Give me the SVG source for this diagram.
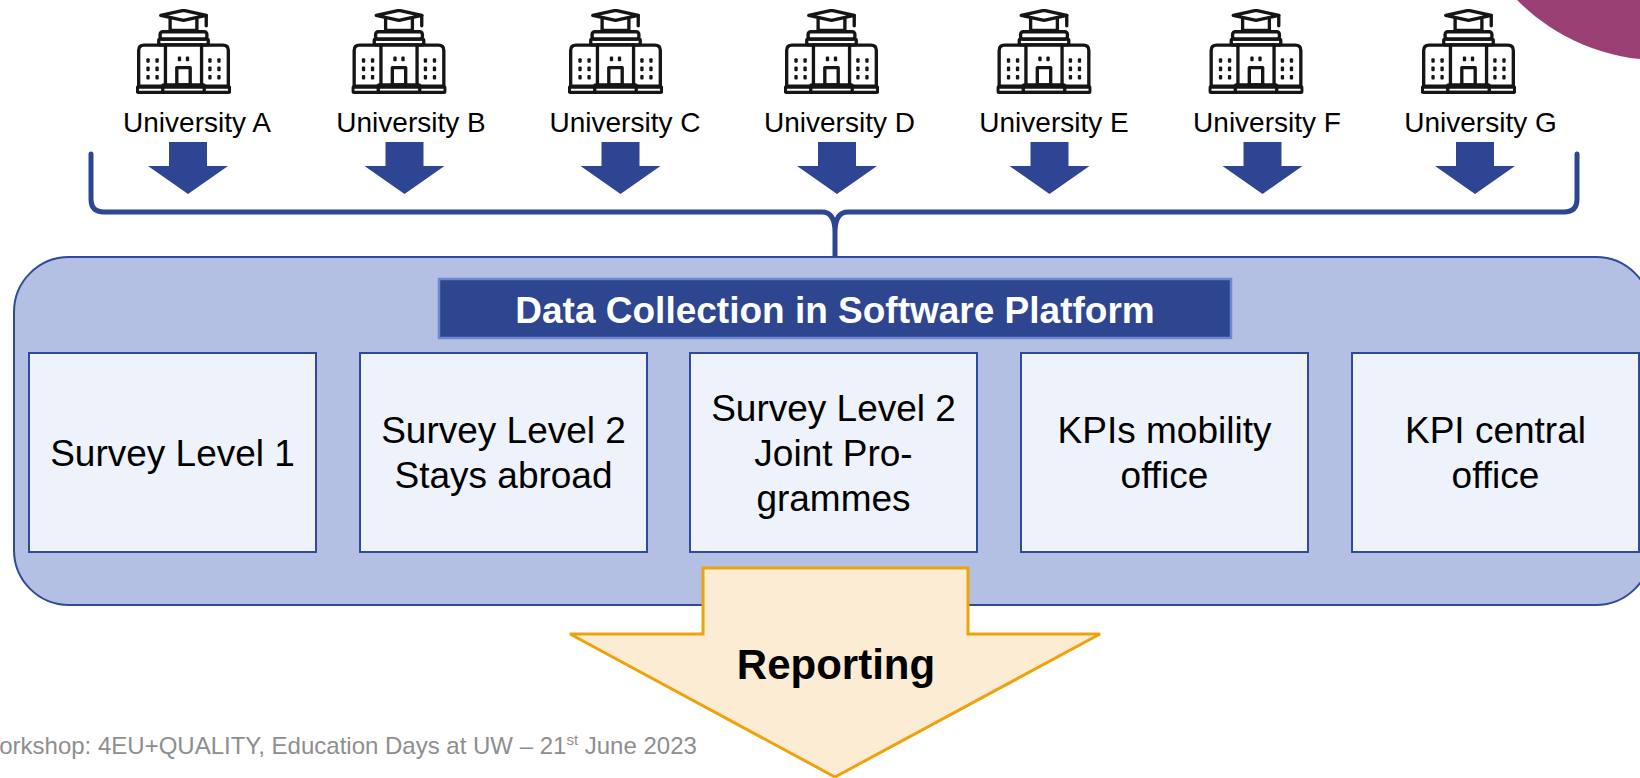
<svg xmlns="http://www.w3.org/2000/svg" xmlns:xlink="http://www.w3.org/1999/xlink" width="1640" height="778" viewBox="0 0 1640 778">
<style>
.uni{font-family:"Liberation Sans",Arial,sans-serif;font-size:28px;fill:#000;text-anchor:middle}
.box{fill:#eef2fa;stroke:#2f4a9c;stroke-width:2}
.bt{font-family:"Liberation Sans",Arial,sans-serif;font-size:37px;fill:#000;text-anchor:middle}
.ico{fill:none;stroke:#151515;stroke-width:10;stroke-linejoin:round;stroke-linecap:round}
.dot{fill:#151515}
.arr{fill:#2e4594}
</style>
<defs>
<symbol id="uni" viewBox="108 28 284 254">
<g class="ico">
<polygon points="250,32 318,47 250,62 182,47"/>
<line x1="318" y1="47" x2="318" y2="78"/>
<path d="M210,58 V92 H290 V58"/>
<rect x="180" y="96" width="140" height="22" rx="8"/>
<rect x="176" y="118" width="148" height="17" rx="4"/>
<rect x="196" y="135" width="108" height="124"/>
<path d="M196,259 H116 V152 Q116,136 132,136 H196"/>
<path d="M304,259 H384 V152 Q384,136 368,136 H304"/>
<rect x="112" y="261" width="276" height="16" rx="4"/>
<rect x="188" y="255" width="124" height="22" rx="3"/>
<rect x="230" y="203" width="40" height="52"/>
</g>
<g class="dot">
<rect x="139" y="175" width="10" height="14" rx="3"/>
<rect x="166" y="175" width="10" height="14" rx="3"/>
<rect x="139" y="200" width="10" height="14" rx="3"/>
<rect x="166" y="200" width="10" height="14" rx="3"/>
<rect x="139" y="225" width="10" height="14" rx="3"/>
<rect x="166" y="225" width="10" height="14" rx="3"/>
<rect x="324" y="175" width="10" height="14" rx="3"/>
<rect x="351" y="175" width="10" height="14" rx="3"/>
<rect x="324" y="200" width="10" height="14" rx="3"/>
<rect x="351" y="200" width="10" height="14" rx="3"/>
<rect x="324" y="225" width="10" height="14" rx="3"/>
<rect x="351" y="225" width="10" height="14" rx="3"/>
<rect x="233" y="170" width="10" height="14" rx="3"/>
<rect x="257" y="170" width="10" height="14" rx="3"/>
</g>
</symbol>
<path id="dn" d="M-19,142 H19 V166 H40 L0,194 L-40,166 H-19 Z"/>
</defs>

<circle cx="1660" cy="-140" r="200" fill="#993f73"/>

<g id="universities">
<g id="uni-a"><use xlink:href="#uni" href="#uni" x="136" y="9" width="95" height="85"/><text class="uni" x="197" y="132">University A</text></g>
<g id="uni-b"><use xlink:href="#uni" href="#uni" x="351.5" y="9" width="95" height="85"/><text class="uni" x="411" y="132">University B</text></g>
<g id="uni-c"><use xlink:href="#uni" href="#uni" x="568" y="9" width="95" height="85"/><text class="uni" x="625" y="132">University C</text></g>
<g id="uni-d"><use xlink:href="#uni" href="#uni" x="784" y="9" width="95" height="85"/><text class="uni" x="839.5" y="132">University D</text></g>
<g id="uni-e"><use xlink:href="#uni" href="#uni" x="996.5" y="9" width="95" height="85"/><text class="uni" x="1054" y="132">University E</text></g>
<g id="uni-f"><use xlink:href="#uni" href="#uni" x="1208.5" y="9" width="95" height="85"/><text class="uni" x="1267" y="132">University F</text></g>
<g id="uni-g"><use xlink:href="#uni" href="#uni" x="1421" y="9" width="95" height="85"/><text class="uni" x="1480.5" y="132">University G</text></g>
</g>

<g id="connectors">
<g class="arr">
<use xlink:href="#dn" href="#dn" x="188"/>
<use xlink:href="#dn" href="#dn" x="404.5"/>
<use xlink:href="#dn" href="#dn" x="620.5"/>
<use xlink:href="#dn" href="#dn" x="837"/>
<use xlink:href="#dn" href="#dn" x="1049.5"/>
<use xlink:href="#dn" href="#dn" x="1262.5"/>
<use xlink:href="#dn" href="#dn" x="1475"/>
</g>
<path d="M91,154 V199 Q91,212 104,212 H822 Q835,212 835,232 V268 M835,232 Q835,212 848,212 H1564 Q1577,212 1577,199 V154" fill="none" stroke="#2e4594" stroke-width="5" stroke-linecap="round" stroke-linejoin="round"/>
</g>

<g id="platform">
<rect x="14" y="257" width="1637" height="348" rx="55" fill="#b3c0e3" stroke="#2f4a9c" stroke-width="2"/>
<g id="title">
<rect x="439" y="279" width="792" height="59" fill="#2e4590" stroke="#6e87d1" stroke-width="2.5"/>
<text x="835" y="323" font-family="Liberation Sans, Arial, sans-serif" font-size="37" font-weight="bold" fill="#fff" text-anchor="middle">Data Collection in Software Platform</text>
</g>
</g>

<g id="box1"><rect class="box" x="29" y="353" width="287" height="199"/><text class="bt" x="172.5" y="466">Survey Level 1</text></g>
<g id="box2"><rect class="box" x="360" y="353" width="287" height="199"/><text class="bt" x="503.5" y="443">Survey Level 2</text><text class="bt" x="503.5" y="488">Stays abroad</text></g>
<g id="box3"><rect class="box" x="690" y="353" width="287" height="199"/><text class="bt" x="833.5" y="421">Survey Level 2</text><text class="bt" x="833.5" y="466">Joint Pro-</text><text class="bt" x="833.5" y="511">grammes</text></g>
<g id="box4"><rect class="box" x="1021" y="353" width="287" height="199"/><text class="bt" x="1164.5" y="443">KPIs mobility</text><text class="bt" x="1164.5" y="488">office</text></g>
<g id="box5"><rect class="box" x="1352" y="353" width="287" height="199"/><text class="bt" x="1495.5" y="443">KPI central</text><text class="bt" x="1495.5" y="488">office</text></g>

<g id="reporting">
<path d="M703,568 H968 V634 H1100 L835,777 L570,634 H703 Z" fill="#fcecd3" stroke="#eea20c" stroke-width="3" stroke-linejoin="miter"/>
<text x="836" y="679" font-family="Liberation Sans, Arial, sans-serif" font-size="42" font-weight="bold" fill="#000" text-anchor="middle">Reporting</text>
</g>

<text x="-23" y="754" font-family="Liberation Sans, Arial, sans-serif" font-size="24" fill="#8e8e8e">Workshop: 4EU+QUALITY, Education Days at UW – 21<tspan font-size="15" dy="-9">st</tspan><tspan dy="9"> June 2023</tspan></text>
</svg>
